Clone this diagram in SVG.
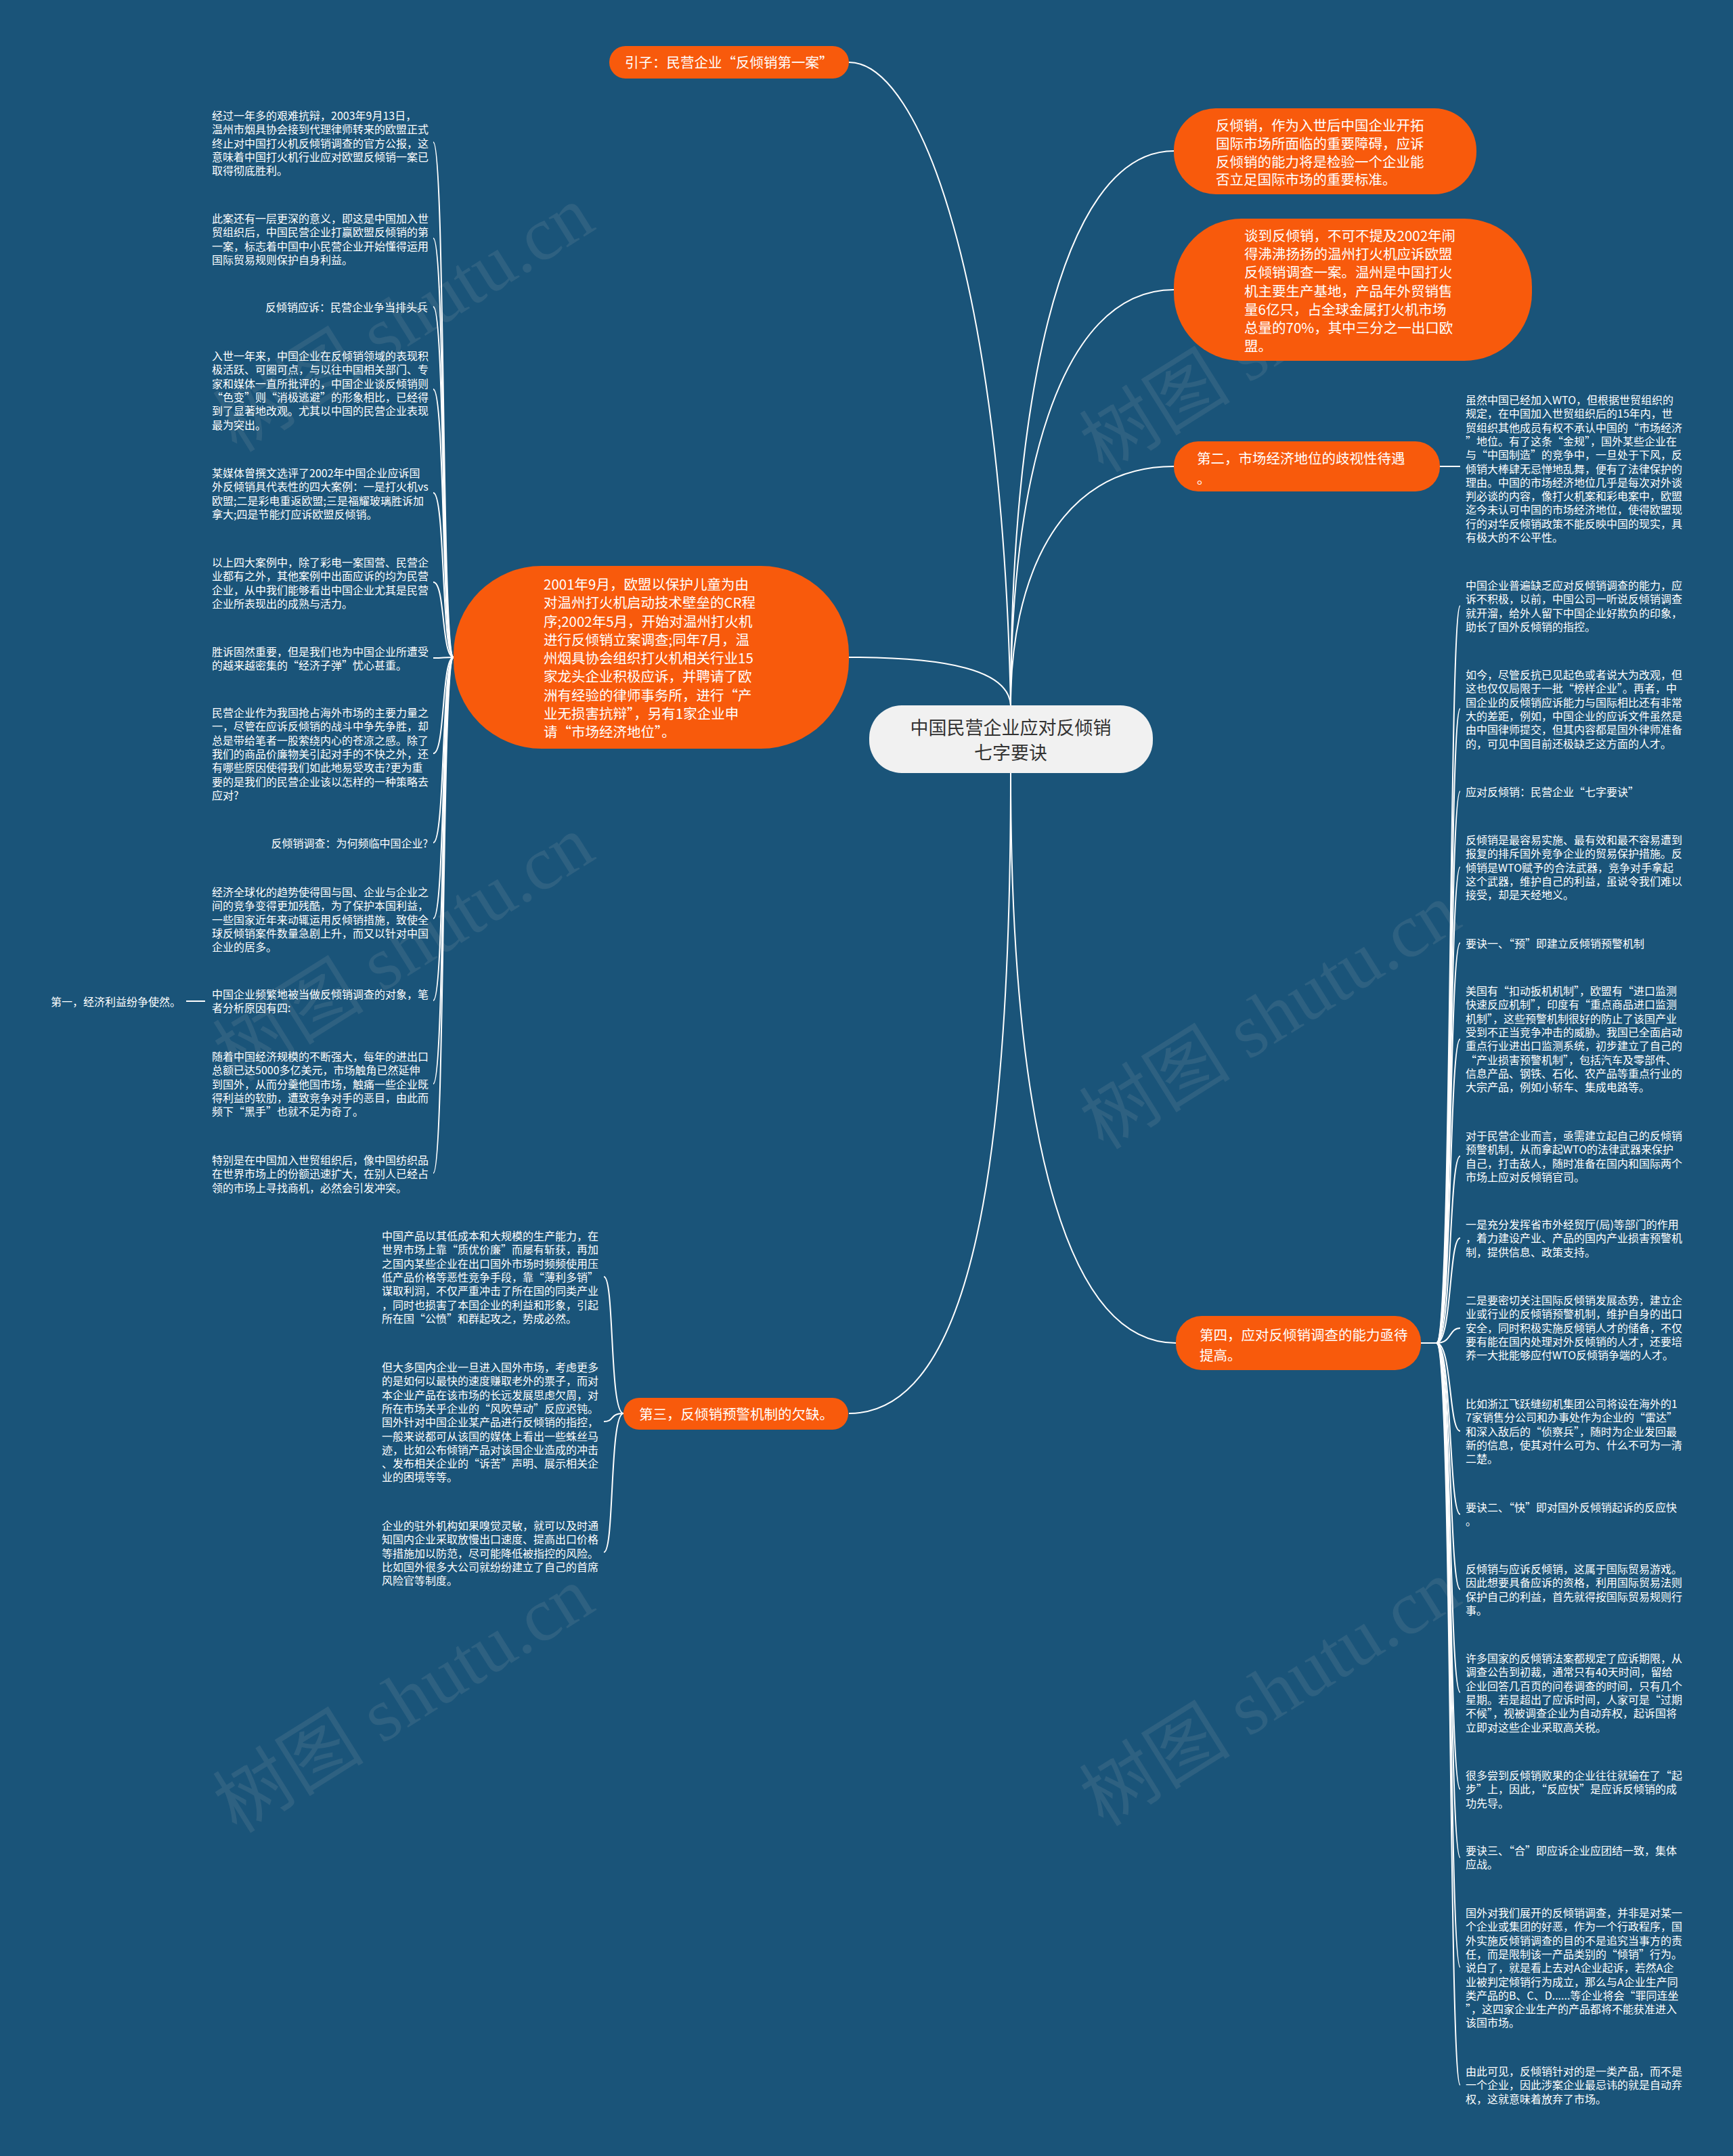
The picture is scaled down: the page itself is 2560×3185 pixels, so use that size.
<svg xmlns="http://www.w3.org/2000/svg" width="2560" height="3185" viewBox="0 0 2560 3185">
<style>
.bg{fill:#1a5479}
.wm{font-family:"Liberation Serif","Noto Sans CJK SC",serif;font-size:112px;fill:#a7b1b8;fill-opacity:0.14}
.node{fill:#f85a0c}
.center{fill:#f1f1f1}
.nt{font-family:"Noto Sans CJK SC","Microsoft YaHei",sans-serif;font-size:20.5px;fill:#ffffff;dominant-baseline:central}
.ct{font-family:"Noto Sans CJK SC","Microsoft YaHei",sans-serif;font-size:27px;fill:#333333;dominant-baseline:central;text-anchor:middle}
.t{font-family:"Noto Sans CJK SC","Microsoft YaHei",sans-serif;font-size:16px;fill:#ffffff;dominant-baseline:central}
.r{text-anchor:end}
.ln{fill:none;stroke:#ffffff;stroke-width:2}
</style>
<rect class="bg" x="0" y="0" width="2560" height="3185"/>
<g id="watermarks">
<text class="wm" transform="translate(350,670) rotate(-32)">树图 shutu.cn</text>
<text class="wm" transform="translate(1630,700) rotate(-32)">树图 shutu.cn</text>
<text class="wm" transform="translate(350,1600) rotate(-32)">树图 shutu.cn</text>
<text class="wm" transform="translate(1630,1700) rotate(-32)">树图 shutu.cn</text>
<text class="wm" transform="translate(350,2710) rotate(-32)">树图 shutu.cn</text>
<text class="wm" transform="translate(1630,2700) rotate(-32)">树图 shutu.cn</text>
</g>
<g id="connectors">
<path class="ln" d="M1254 92 C1360 92 1480 420 1493 1042"/>
<path class="ln" d="M1493 1042 C1493 620 1560 223 1734 223"/>
<path class="ln" d="M1493 1042 C1493 720 1560 428 1734 428"/>
<path class="ln" d="M1493 1042 C1493 860 1560 689 1734 689"/>
<path class="ln" d="M1254 971 C1400 971 1490 990 1493 1042"/>
<path class="ln" d="M1493 1142 C1493 1700 1440 2088 1254 2088"/>
<path class="ln" d="M1493 1142 C1493 1620 1560 1984 1737 1984"/>
<path class="ln" d="M2127 689 L2157 689"/>
<path class="ln" d="M303 1479 L275 1479"/>
<path class="ln" d="M670 971 C652 971 658 210 640 210"/>
<path class="ln" d="M670 971 C652 971 658 352 640 352"/>
<path class="ln" d="M670 971 C652 971 658 453 640 453"/>
<path class="ln" d="M670 971 C652 971 658 575 640 575"/>
<path class="ln" d="M670 971 C652 971 658 728 640 728"/>
<path class="ln" d="M670 971 C652 971 658 860 640 860"/>
<path class="ln" d="M670 971 C652 971 658 972 640 972"/>
<path class="ln" d="M670 971 C652 971 658 1113 640 1113"/>
<path class="ln" d="M670 971 C652 971 658 1245 640 1245"/>
<path class="ln" d="M670 971 C652 971 658 1357 640 1357"/>
<path class="ln" d="M670 971 C652 971 658 1478 640 1478"/>
<path class="ln" d="M670 971 C652 971 658 1601 640 1601"/>
<path class="ln" d="M670 971 C652 971 658 1733 640 1733"/>
<path class="ln" d="M921 2088 C900 2088 908 1886 892 1886"/>
<path class="ln" d="M921 2088 C900 2088 908 2100 892 2100"/>
<path class="ln" d="M921 2088 C900 2088 908 2293 892 2293"/>
<path class="ln" d="M2099 1984 L2122 1984 C2145 1984 2140 895 2157 895"/>
<path class="ln" d="M2099 1984 L2122 1984 C2145 1984 2140 1047 2157 1047"/>
<path class="ln" d="M2099 1984 L2122 1984 C2145 1984 2140 1169 2157 1169"/>
<path class="ln" d="M2099 1984 L2122 1984 C2145 1984 2140 1281 2157 1281"/>
<path class="ln" d="M2099 1984 L2122 1984 C2145 1984 2140 1393 2157 1393"/>
<path class="ln" d="M2099 1984 L2122 1984 C2145 1984 2140 1535 2157 1535"/>
<path class="ln" d="M2099 1984 L2122 1984 C2145 1984 2140 1708 2157 1708"/>
<path class="ln" d="M2099 1984 L2122 1984 C2145 1984 2140 1829 2157 1829"/>
<path class="ln" d="M2099 1984 L2122 1984 C2145 1984 2140 1962 2157 1962"/>
<path class="ln" d="M2099 1984 L2122 1984 C2145 1984 2140 2114 2157 2114"/>
<path class="ln" d="M2099 1984 L2122 1984 C2145 1984 2140 2237 2157 2237"/>
<path class="ln" d="M2099 1984 L2122 1984 C2145 1984 2140 2348 2157 2348"/>
<path class="ln" d="M2099 1984 L2122 1984 C2145 1984 2140 2500 2157 2500"/>
<path class="ln" d="M2099 1984 L2122 1984 C2145 1984 2140 2643 2157 2643"/>
<path class="ln" d="M2099 1984 L2122 1984 C2145 1984 2140 2744 2157 2744"/>
<path class="ln" d="M2099 1984 L2122 1984 C2145 1984 2140 2906 2157 2906"/>
<path class="ln" d="M2099 1984 L2122 1984 C2145 1984 2140 3080 2157 3080"/>
</g>
<g id="center">
<rect class="center" x="1284" y="1042" width="419" height="100" rx="48"/>
<text class="ct" x="1493" y="1073">中国民营企业应对反倾销</text>
<text class="ct" x="1493" y="1110">七字要诀</text>
</g>
<g id="n-intro">
<rect class="node" x="900" y="68" width="354" height="48" rx="24"/>
<text class="nt" x="923" y="91">引子：民营企业“反倾销第一案”</text>
</g>
<g id="n-r1">
<rect class="node" x="1734" y="160" width="447" height="127" rx="62"/>
<text class="nt"><tspan x="1796" y="184">反倾销，作为入世后中国企业开拓</tspan><tspan x="1796" y="211">国际市场所面临的重要障碍，应诉</tspan><tspan x="1796" y="238">反倾销的能力将是检验一个企业能</tspan><tspan x="1796" y="264">否立足国际市场的重要标准。</tspan></text>
</g>
<g id="n-r2">
<rect class="node" x="1734" y="323" width="529" height="210" rx="100"/>
<text class="nt"><tspan x="1838" y="347">谈到反倾销，不可不提及2002年闹</tspan><tspan x="1838" y="374">得沸沸扬扬的温州打火机应诉欧盟</tspan><tspan x="1838" y="401">反倾销调查一案。温州是中国打火</tspan><tspan x="1838" y="429">机主要生产基地，产品年外贸销售</tspan><tspan x="1838" y="456">量6亿只，占全球金属打火机市场</tspan><tspan x="1838" y="483">总量的70%，其中三分之一出口欧</tspan><tspan x="1838" y="510">盟。</tspan></text>
</g>
<g id="n-second">
<rect class="node" x="1734" y="652" width="393" height="74" rx="36"/>
<text class="nt"><tspan x="1768" y="676">第二，市场经济地位的歧视性待遇</tspan><tspan x="1768" y="706">。</tspan></text>
</g>
<g id="n-left">
<rect class="node" x="670" y="836" width="584" height="270" rx="130"/>
<text class="nt"><tspan x="803" y="862">2001年9月，欧盟以保护儿童为由</tspan><tspan x="803" y="889">对温州打火机启动技术壁垒的CR程</tspan><tspan x="803" y="917">序;2002年5月，开始对温州打火机</tspan><tspan x="803" y="944">进行反倾销立案调查;同年7月，温</tspan><tspan x="803" y="971">州烟具协会组织打火机相关行业15</tspan><tspan x="803" y="998">家龙头企业积极应诉，并聘请了欧</tspan><tspan x="803" y="1026">洲有经验的律师事务所，进行“产</tspan><tspan x="803" y="1053">业无损害抗辩”，另有1家企业申</tspan><tspan x="803" y="1080">请“市场经济地位”。</tspan></text>
</g>
<g id="n-third">
<rect class="node" x="921" y="2065" width="332" height="47" rx="23"/>
<text class="nt" x="944" y="2088">第三，反倾销预警机制的欠缺。</text>
</g>
<g id="n-fourth">
<rect class="node" x="1737" y="1944" width="362" height="80" rx="38"/>
<text class="nt"><tspan x="1772" y="1971">第四，应对反倾销调查的能力亟待</tspan><tspan x="1772" y="2001">提高。</tspan></text>
</g>
<g id="left-children">
<text class="t"><tspan x="313" y="170">经过一年多的艰难抗辩，2003年9月13日，</tspan><tspan x="313" y="190.3">温州市烟具协会接到代理律师转来的欧盟正式</tspan><tspan x="313" y="210.6">终止对中国打火机反倾销调查的官方公报，这</tspan><tspan x="313" y="230.9">意味着中国打火机行业应对欧盟反倾销一案已</tspan><tspan x="313" y="251.2">取得彻底胜利。</tspan></text>
<text class="t"><tspan x="313" y="322">此案还有一层更深的意义，即这是中国加入世</tspan><tspan x="313" y="342.3">贸组织后，中国民营企业打赢欧盟反倾销的第</tspan><tspan x="313" y="362.6">一案，标志着中国中小民营企业开始懂得运用</tspan><tspan x="313" y="382.9">国际贸易规则保护自身利益。</tspan></text>
<text class="t r" x="632" y="453">反倾销应诉：民营企业争当排头兵</text>
<text class="t"><tspan x="313" y="525">入世一年来，中国企业在反倾销领域的表现积</tspan><tspan x="313" y="545.3">极活跃、可圈可点，与以往中国相关部门、专</tspan><tspan x="313" y="565.6">家和媒体一直所批评的，中国企业谈反倾销则</tspan><tspan x="313" y="585.9">“色变”则“消极逃避”的形象相比，已经得</tspan><tspan x="313" y="606.2">到了显著地改观。尤其以中国的民营企业表现</tspan><tspan x="313" y="626.5">最为突出。</tspan></text>
<text class="t"><tspan x="313" y="698">某媒体曾撰文选评了2002年中国企业应诉国</tspan><tspan x="313" y="718.3">外反倾销具代表性的四大案例：一是打火机vs</tspan><tspan x="313" y="738.6">欧盟;二是彩电重返欧盟;三是福耀玻璃胜诉加</tspan><tspan x="313" y="758.9">拿大;四是节能灯应诉欧盟反倾销。</tspan></text>
<text class="t"><tspan x="313" y="830">以上四大案例中，除了彩电一案国营、民营企</tspan><tspan x="313" y="850.3">业都有之外，其他案例中出面应诉的均为民营</tspan><tspan x="313" y="870.6">企业，从中我们能够看出中国企业尤其是民营</tspan><tspan x="313" y="890.9">企业所表现出的成熟与活力。</tspan></text>
<text class="t"><tspan x="313" y="962">胜诉固然重要，但是我们也为中国企业所遭受</tspan><tspan x="313" y="982.3">的越来越密集的“经济子弹”忧心甚重。</tspan></text>
<text class="t"><tspan x="313" y="1052">民营企业作为我国抢占海外市场的主要力量之</tspan><tspan x="313" y="1072.3">一，尽管在应诉反倾销的战斗中争先争胜，却</tspan><tspan x="313" y="1092.6">总是带给笔者一股萦绕内心的苍凉之感。除了</tspan><tspan x="313" y="1112.9">我们的商品价廉物美引起对手的不快之外，还</tspan><tspan x="313" y="1133.2">有哪些原因使得我们如此地易受攻击?更为重</tspan><tspan x="313" y="1153.5">要的是我们的民营企业该以怎样的一种策略去</tspan><tspan x="313" y="1173.8">应对?</tspan></text>
<text class="t r" x="632" y="1245">反倾销调查：为何频临中国企业?</text>
<text class="t"><tspan x="313" y="1317">经济全球化的趋势使得国与国、企业与企业之</tspan><tspan x="313" y="1337.3">间的竞争变得更加残酷，为了保护本国利益，</tspan><tspan x="313" y="1357.6">一些国家近年来动辄运用反倾销措施，致使全</tspan><tspan x="313" y="1377.9">球反倾销案件数量急剧上升，而又以针对中国</tspan><tspan x="313" y="1398.2">企业的居多。</tspan></text>
<text class="t"><tspan x="313" y="1468">中国企业频繁地被当做反倾销调查的对象，笔</tspan><tspan x="313" y="1488.3">者分析原因有四:</tspan></text>
<text class="t" x="75" y="1479">第一，经济利益纷争使然。</text>
<text class="t"><tspan x="313" y="1560">随着中国经济规模的不断强大，每年的进出口</tspan><tspan x="313" y="1580.3">总额已达5000多亿美元，市场触角已然延伸</tspan><tspan x="313" y="1600.6">到国外，从而分羹他国市场，触痛一些企业既</tspan><tspan x="313" y="1620.9">得利益的软肋，遭致竞争对手的恶目，由此而</tspan><tspan x="313" y="1641.2">频下“黑手”也就不足为奇了。</tspan></text>
<text class="t"><tspan x="313" y="1713">特别是在中国加入世贸组织后，像中国纺织品</tspan><tspan x="313" y="1733.3">在世界市场上的份额迅速扩大，在别人已经占</tspan><tspan x="313" y="1753.6">领的市场上寻找商机，必然会引发冲突。</tspan></text>
</g>
<g id="third-children">
<text class="t"><tspan x="564" y="1825">中国产品以其低成本和大规模的生产能力，在</tspan><tspan x="564" y="1845.3">世界市场上靠“质优价廉”而屡有斩获，再加</tspan><tspan x="564" y="1865.6">之国内某些企业在出口国外市场时频频使用压</tspan><tspan x="564" y="1885.9">低产品价格等恶性竞争手段，靠“薄利多销”</tspan><tspan x="564" y="1906.2">谋取利润，不仅严重冲击了所在国的同类产业</tspan><tspan x="564" y="1926.5">，同时也损害了本国企业的利益和形象，引起</tspan><tspan x="564" y="1946.8">所在国“公愤”和群起攻之，势成必然。</tspan></text>
<text class="t"><tspan x="564" y="2019">但大多国内企业一旦进入国外市场，考虑更多</tspan><tspan x="564" y="2039.3">的是如何以最快的速度赚取老外的票子，而对</tspan><tspan x="564" y="2059.6">本企业产品在该市场的长远发展思虑欠周，对</tspan><tspan x="564" y="2079.9">所在市场关乎企业的“风吹草动”反应迟钝。</tspan><tspan x="564" y="2100.2">国外针对中国企业某产品进行反倾销的指控，</tspan><tspan x="564" y="2120.5">一般来说都可从该国的媒体上看出一些蛛丝马</tspan><tspan x="564" y="2140.8">迹，比如公布倾销产品对该国企业造成的冲击</tspan><tspan x="564" y="2161.1">、发布相关企业的“诉苦”声明、展示相关企</tspan><tspan x="564" y="2181.4">业的困境等等。</tspan></text>
<text class="t"><tspan x="564" y="2253">企业的驻外机构如果嗅觉灵敏，就可以及时通</tspan><tspan x="564" y="2273.3">知国内企业采取放慢出口速度、提高出口价格</tspan><tspan x="564" y="2293.6">等措施加以防范，尽可能降低被指控的风险。</tspan><tspan x="564" y="2313.9">比如国外很多大公司就纷纷建立了自己的首席</tspan><tspan x="564" y="2334.2">风险官等制度。</tspan></text>
</g>
<g id="second-child">
<text class="t"><tspan x="2165" y="590">虽然中国已经加入WTO，但根据世贸组织的</tspan><tspan x="2165" y="610.3">规定，在中国加入世贸组织后的15年内，世</tspan><tspan x="2165" y="630.6">贸组织其他成员有权不承认中国的“市场经济</tspan><tspan x="2165" y="650.9">”地位。有了这条“金规”，国外某些企业在</tspan><tspan x="2165" y="671.2">与“中国制造”的竞争中，一旦处于下风，反</tspan><tspan x="2165" y="691.5">倾销大棒肆无忌惮地乱舞，便有了法律保护的</tspan><tspan x="2165" y="711.8">理由。中国的市场经济地位几乎是每次对外谈</tspan><tspan x="2165" y="732.1">判必谈的内容，像打火机案和彩电案中，欧盟</tspan><tspan x="2165" y="752.4">迄今未认可中国的市场经济地位，使得欧盟现</tspan><tspan x="2165" y="772.7">行的对华反倾销政策不能反映中国的现实，具</tspan><tspan x="2165" y="793">有极大的不公平性。</tspan></text>
</g>
<g id="fourth-children">
<text class="t"><tspan x="2165" y="864">中国企业普遍缺乏应对反倾销调查的能力，应</tspan><tspan x="2165" y="884.3">诉不积极，以前，中国公司一听说反倾销调查</tspan><tspan x="2165" y="904.6">就开溜，给外人留下中国企业好欺负的印象，</tspan><tspan x="2165" y="924.9">助长了国外反倾销的指控。</tspan></text>
<text class="t"><tspan x="2165" y="996">如今，尽管反抗已见起色或者说大为改观，但</tspan><tspan x="2165" y="1016.3">这也仅仅局限于一批“榜样企业”。再者，中</tspan><tspan x="2165" y="1036.6">国企业的反倾销应诉能力与国际相比还有非常</tspan><tspan x="2165" y="1056.9">大的差距，例如，中国企业的应诉文件虽然是</tspan><tspan x="2165" y="1077.2">由中国律师提交，但其内容都是国外律师准备</tspan><tspan x="2165" y="1097.5">的，可见中国目前还极缺乏这方面的人才。</tspan></text>
<text class="t" x="2165" y="1169">应对反倾销：民营企业“七字要诀”</text>
<text class="t"><tspan x="2165" y="1240">反倾销是最容易实施、最有效和最不容易遭到</tspan><tspan x="2165" y="1260.3">报复的排斥国外竞争企业的贸易保护措施。反</tspan><tspan x="2165" y="1280.6">倾销是WTO赋予的合法武器，竞争对手拿起</tspan><tspan x="2165" y="1300.9">这个武器，维护自己的利益，虽说令我们难以</tspan><tspan x="2165" y="1321.2">接受，却是天经地义。</tspan></text>
<text class="t" x="2165" y="1393">要诀一、“预”即建立反倾销预警机制</text>
<text class="t"><tspan x="2165" y="1463">美国有“扣动扳机机制”，欧盟有“进口监测</tspan><tspan x="2165" y="1483.3">快速反应机制”，印度有“重点商品进口监测</tspan><tspan x="2165" y="1503.6">机制”，这些预警机制很好的防止了该国产业</tspan><tspan x="2165" y="1523.9">受到不正当竞争冲击的威胁。我国已全面启动</tspan><tspan x="2165" y="1544.2">重点行业进出口监测系统，初步建立了自己的</tspan><tspan x="2165" y="1564.5">“产业损害预警机制”，包括汽车及零部件、</tspan><tspan x="2165" y="1584.8">信息产品、钢铁、石化、农产品等重点行业的</tspan><tspan x="2165" y="1605.1">大宗产品，例如小轿车、集成电路等。</tspan></text>
<text class="t"><tspan x="2165" y="1677">对于民营企业而言，亟需建立起自己的反倾销</tspan><tspan x="2165" y="1697.3">预警机制，从而拿起WTO的法律武器来保护</tspan><tspan x="2165" y="1717.6">自己，打击敌人，随时准备在国内和国际两个</tspan><tspan x="2165" y="1737.9">市场上应对反倾销官司。</tspan></text>
<text class="t"><tspan x="2165" y="1808">一是充分发挥省市外经贸厅(局)等部门的作用</tspan><tspan x="2165" y="1828.3">，着力建设产业、产品的国内产业损害预警机</tspan><tspan x="2165" y="1848.6">制，提供信息、政策支持。</tspan></text>
<text class="t"><tspan x="2165" y="1920">二是要密切关注国际反倾销发展态势，建立企</tspan><tspan x="2165" y="1940.3">业或行业的反倾销预警机制，维护自身的出口</tspan><tspan x="2165" y="1960.6">安全，同时积极实施反倾销人才的储备，不仅</tspan><tspan x="2165" y="1980.9">要有能在国内处理对外反倾销的人才，还要培</tspan><tspan x="2165" y="2001.2">养一大批能够应付WTO反倾销争端的人才。</tspan></text>
<text class="t"><tspan x="2165" y="2073">比如浙江飞跃缝纫机集团公司将设在海外的1</tspan><tspan x="2165" y="2093.3">7家销售分公司和办事处作为企业的“雷达”</tspan><tspan x="2165" y="2113.6">和深入敌后的“侦察兵”，随时为企业发回最</tspan><tspan x="2165" y="2133.9">新的信息，使其对什么可为、什么不可为一清</tspan><tspan x="2165" y="2154.2">二楚。</tspan></text>
<text class="t"><tspan x="2165" y="2226">要诀二、“快”即对国外反倾销起诉的反应快</tspan><tspan x="2165" y="2246.3">。</tspan></text>
<text class="t"><tspan x="2165" y="2317">反倾销与应诉反倾销，这属于国际贸易游戏。</tspan><tspan x="2165" y="2337.3">因此想要具备应诉的资格，利用国际贸易法则</tspan><tspan x="2165" y="2357.6">保护自己的利益，首先就得按国际贸易规则行</tspan><tspan x="2165" y="2377.9">事。</tspan></text>
<text class="t"><tspan x="2165" y="2449">许多国家的反倾销法案都规定了应诉期限，从</tspan><tspan x="2165" y="2469.3">调查公告到初裁，通常只有40天时间，留给</tspan><tspan x="2165" y="2489.6">企业回答几百页的问卷调查的时间，只有几个</tspan><tspan x="2165" y="2509.9">星期。若是超出了应诉时间，人家可是“过期</tspan><tspan x="2165" y="2530.2">不候”，视被调查企业为自动弃权，起诉国将</tspan><tspan x="2165" y="2550.5">立即对这些企业采取高关税。</tspan></text>
<text class="t"><tspan x="2165" y="2622">很多尝到反倾销败果的企业往往就输在了“起</tspan><tspan x="2165" y="2642.3">步”上，因此，“反应快”是应诉反倾销的成</tspan><tspan x="2165" y="2662.6">功先导。</tspan></text>
<text class="t"><tspan x="2165" y="2733">要诀三、“合”即应诉企业应团结一致，集体</tspan><tspan x="2165" y="2753.3">应战。</tspan></text>
<text class="t"><tspan x="2165" y="2825">国外对我们展开的反倾销调查，并非是对某一</tspan><tspan x="2165" y="2845.3">个企业或集团的好恶，作为一个行政程序，国</tspan><tspan x="2165" y="2865.6">外实施反倾销调查的目的不是追究当事方的责</tspan><tspan x="2165" y="2885.9">任，而是限制该一产品类别的“倾销”行为。</tspan><tspan x="2165" y="2906.2">说白了，就是看上去对A企业起诉，若然A企</tspan><tspan x="2165" y="2926.5">业被判定倾销行为成立，那么与A企业生产同</tspan><tspan x="2165" y="2946.8">类产品的B、C、D......等企业将会“罪同连坐</tspan><tspan x="2165" y="2967.1">”，这四家企业生产的产品都将不能获准进入</tspan><tspan x="2165" y="2987.4">该国市场。</tspan></text>
<text class="t"><tspan x="2165" y="3059">由此可见，反倾销针对的是一类产品，而不是</tspan><tspan x="2165" y="3079.3">一个企业，因此涉案企业最忌讳的就是自动弃</tspan><tspan x="2165" y="3099.6">权，这就意味着放弃了市场。</tspan></text>
</g>
</svg>
